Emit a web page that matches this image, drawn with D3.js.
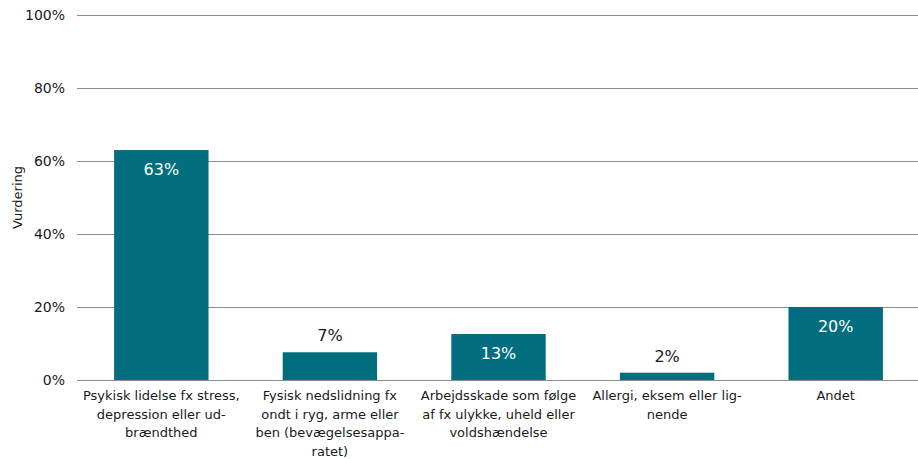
<!DOCTYPE html>
<html>
<head>
<meta charset="utf-8">
<script src="https://cdn.jsdelivr.net/npm/d3@7"></script>
<style>
body { margin: 0; background: #fff; }
text { font-family: "DejaVu Sans", Verdana, sans-serif; }
</style>
</head>
<body>
<script>
var w = 918;
var h = 459;

// data
var categories = [
  ["Psykisk lidelse fx stress,", "depression eller ud-", "brændthed"],
  ["Fysisk nedslidning fx", "ondt i ryg, arme eller", "ben (bevægelsesappa-", "ratet)"],
  ["Arbejdsskade som følge", "af fx ulykke, uheld eller", "voldshændelse"],
  ["Allergi, eksem eller lig-", "nende"],
  ["Andet"]
];
var values = [63, 7.6, 12.6, 2, 20];
var valueLabels = ["63%", "7%", "13%", "2%", "20%"];
var yTicks = [0, 20, 40, 60, 80, 100];

var plotLeft = 77, plotRight = 920, plotTop = 15, plotBottom = 380;
var barColor = "#006e7f";

var svg = d3.select("body").append("svg")
    .attr("width", w)
    .attr("height", h);

var x = d3.scaleBand()
    .domain(d3.range(values.length))
    .range([plotLeft, plotRight])
    .paddingInner(0.44)
    .paddingOuter(0.22);

var y = d3.scaleLinear()
    .domain([0, 100])
    .range([plotBottom, plotTop]);

// gridlines
svg.selectAll(".grid")
    .data(yTicks)
    .enter().append("line")
    .attr("x1", plotLeft)
    .attr("x2", w)
    .attr("y1", d => Math.round(y(d)) + 0.5)
    .attr("y2", d => Math.round(y(d)) + 0.5)
    .attr("stroke", "#8c8c8c")
    .attr("stroke-width", 1);

// y tick labels
svg.selectAll(".ytick")
    .data(yTicks)
    .enter().append("text")
    .attr("x", 65)
    .attr("y", d => y(d) + 5)
    .attr("text-anchor", "end")
    .style("font-size", "14px")
    .attr("fill", "#1a1a1a")
    .text(d => d + "%");

// axis title
svg.append("text")
    .attr("transform", "translate(22," + ((plotTop + plotBottom) / 2) + ")rotate(-90)")
    .attr("text-anchor", "middle")
    .style("font-size", "13px")
    .attr("fill", "#1a1a1a")
    .text("Vurdering");

// bars
svg.selectAll(".bar")
    .data(values)
    .enter().append("rect")
    .attr("x", (d, i) => x(i))
    .attr("y", d => y(d))
    .attr("width", x.bandwidth())
    .attr("height", d => plotBottom - y(d))
    .attr("fill", barColor);

// value labels: inside if the bar is tall enough
svg.selectAll(".val")
    .data(values)
    .enter().append("text")
    .attr("x", (d, i) => x(i) + x.bandwidth() / 2)
    .attr("y", d => (plotBottom - y(d) > 40) ? y(d) + 25 : y(d) - 11)
    .attr("text-anchor", "middle")
    .style("font-size", "16px")
    .attr("fill", d => (plotBottom - y(d) > 40) ? "#fff" : "#1a1a1a")
    .text((d, i) => valueLabels[i]);

// category labels
var cat = svg.selectAll(".cat")
    .data(categories)
    .enter().append("text")
    .attr("text-anchor", "middle")
    .style("font-size", "13px")
    .attr("fill", "#1a1a1a");

cat.selectAll("tspan")
    .data((d, i) => d.map(s => ({s: s, i: i})))
    .enter().append("tspan")
    .attr("x", d => x(d.i) + x.bandwidth() / 2)
    .attr("y", (d, j) => 400 + j * 18.5)
    .text(d => d.s);
</script>
</body>
</html>
